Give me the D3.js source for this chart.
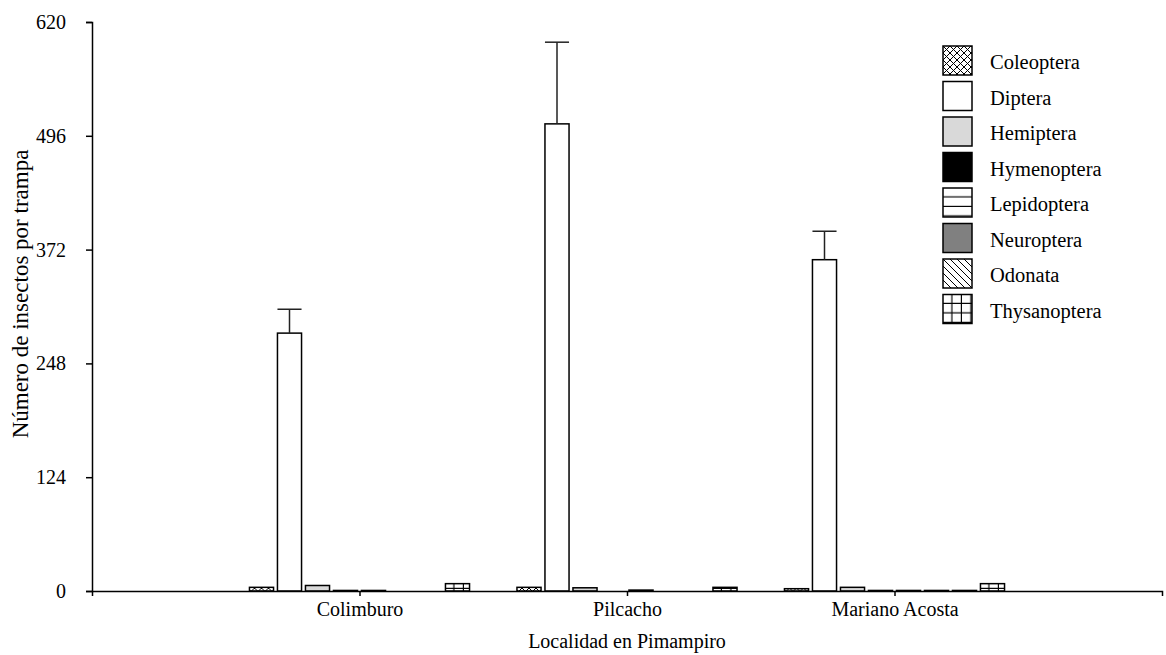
<!DOCTYPE html>
<html>
<head>
<meta charset="utf-8">
<script src="https://cdn.jsdelivr.net/npm/d3@7"></script>
<style>
    body { margin: 0; background: #fff; }
    text { font-family: "Liberation Serif", "Times New Roman", serif; fill: #000; }
    .axis path, .axis line { stroke: #000; stroke-width: 1.5; }
    .axis text { font-size: 20px; }
</style>
</head>
<body>
<div id="chart"></div>
<script>
// localities on the x axis
const localities = ['Colimburo', 'Pilcacho', 'Mariano Acosta'];
// insect orders (one bar per order in each locality)
const orders = ['Coleoptera', 'Diptera', 'Hemiptera', 'Hymenoptera', 'Lepidoptera', 'Neuroptera', 'Odonata', 'Thysanoptera'];
// mean insects per trap, one array per locality, in the order above
const colimburoValues = [4, 281, 6, 0.6, 0.6, 0, 0, 8];
const pilcachoValues = [4, 509, 3.5, 0, 1, 0, 0, 4];
const marianoValues = [2.5, 361, 4, 0.6, 0.6, 0.6, 0.6, 8];
// standard errors
const colimburoErrors = [0, 26, 0, 0, 0, 0, 0, 0];
const pilcachoErrors = [0, 89, 0, 0, 0, 0, 0, 0];
const marianoErrors = [0, 31, 0, 0, 0, 0, 0, 0];
const yTicks = [0, 124, 248, 372, 496, 620];

const values = [colimburoValues, pilcachoValues, marianoValues];
const errors = [colimburoErrors, pilcachoErrors, marianoErrors];

const width = 1166, height = 655;
const svg = d3.select("#chart").append("svg")
    .attr("width", width)
    .attr("height", height);

// fill patterns
const defs = svg.append("defs");

const cross = defs.append("pattern").attr("id", "p-cross")
    .attr("patternUnits", "userSpaceOnUse").attr("width", 7).attr("height", 7);
cross.append("path").attr("d", "M0,0L7,7M7,0L0,7")
    .attr("stroke", "#000").attr("stroke-width", 1);

const hlines = defs.append("pattern").attr("id", "p-hlines")
    .attr("patternUnits", "userSpaceOnUse").attr("width", 9).attr("height", 9.5);
hlines.append("rect").attr("width", 9).attr("height", 9.5).attr("fill", "#fff");
hlines.append("path").attr("d", "M0,9L9,9")
    .attr("stroke", "#000").attr("stroke-width", 1.3);

const diag = defs.append("pattern").attr("id", "p-diag")
    .attr("patternUnits", "userSpaceOnUse").attr("width", 7).attr("height", 7);
diag.append("rect").attr("width", 7).attr("height", 7).attr("fill", "#fff");
diag.append("path").attr("d", "M-1,-1L8,8M-1,6L1,8M6,-1L8,1")
    .attr("stroke", "#000").attr("stroke-width", 1);

const grid = defs.append("pattern").attr("id", "p-grid")
    .attr("patternUnits", "userSpaceOnUse").attr("width", 9.5).attr("height", 9.5);
grid.append("rect").attr("width", 9.5).attr("height", 9.5).attr("fill", "#fff");
grid.append("path").attr("d", "M9,0L9,9.5M0,9L9.5,9")
    .attr("stroke", "#000").attr("stroke-width", 1.3);

const fills = d3.scaleOrdinal()
    .domain(orders)
    .range(["url(#p-cross)", "#fff", "#d9d9d9", "#000", "url(#p-hlines)", "#808080", "url(#p-diag)", "url(#p-grid)"]);

// scales
const x = d3.scalePoint()
    .domain(localities)
    .range([92, 1162])
    .padding(1);

const xSub = d3.scaleBand()
    .domain(orders)
    .range([-112, 112])
    .paddingInner(0.14)
    .paddingOuter(0.07);

const y = d3.scaleLinear()
    .domain([0, 620])
    .range([591, 22]);

// bars
localities.forEach((loc, i) => {
    const rows = orders.map((o, j) => ({ order: o, value: values[i][j], err: errors[i][j] }));
    const g = svg.append("g").attr("transform", `translate(${x(loc)},0)`);

    g.selectAll("rect.bar")
        .data(rows.filter(d => d.value > 0))
        .enter().append("rect")
        .attr("class", "bar")
        .attr("x", d => xSub(d.order))
        .attr("y", d => y(d.value))
        .attr("width", xSub.bandwidth())
        .attr("height", d => y(0) - y(d.value))
        .attr("fill", d => fills(d.order))
        .attr("stroke", "#000")
        .attr("stroke-width", 1.5);

    const err = g.selectAll("g.err")
        .data(rows.filter(d => d.err > 0))
        .enter().append("g")
        .attr("class", "err");

    err.append("line")
        .attr("x1", d => xSub(d.order) + xSub.bandwidth() / 2)
        .attr("x2", d => xSub(d.order) + xSub.bandwidth() / 2)
        .attr("y1", d => y(d.value))
        .attr("y2", d => y(d.value + d.err))
        .attr("stroke", "#222").attr("stroke-width", 1.5);

    err.append("line")
        .attr("x1", d => xSub(d.order))
        .attr("x2", d => xSub(d.order) + xSub.bandwidth())
        .attr("y1", d => y(d.value + d.err))
        .attr("y2", d => y(d.value + d.err))
        .attr("stroke", "#222").attr("stroke-width", 1.5);
});

// axes
svg.append("g")
    .attr("class", "axis x-axis")
    .attr("transform", `translate(0,${y(0)})`)
    .call(d3.axisBottom(x).tickSizeOuter(0).tickSize(5).tickPadding(6));

svg.append("g")
    .attr("class", "axis y-axis")
    .attr("transform", `translate(${x.range()[0]},0)`)
    .call(d3.axisLeft(y).tickValues(yTicks).tickSizeOuter(0).tickSize(6).tickPadding(20));

svg.selectAll(".axis .domain").attr("stroke-width", 1.5);

// axis labels
svg.append("text")
    .attr("x", x(localities[1]))
    .attr("y", 648)
    .attr("text-anchor", "middle")
    .style("font-size", "20px")
    .text("Localidad en Pimampiro");

svg.append("text")
    .attr("transform", "rotate(-90)")
    .attr("x", -294)
    .attr("y", 28)
    .attr("text-anchor", "middle")
    .style("font-size", "23px")
    .text("Número de insectos por trampa");

// legend
const legend = svg.append("g")
    .attr("class", "legend")
    .attr("transform", "translate(943,46)");

orders.forEach((o, i) => {
    const row = legend.append("g")
        .attr("transform", `translate(0,${i * 35.5})`);

    row.append("rect")
        .attr("width", 29)
        .attr("height", 29)
        .attr("fill", fills(o))
        .attr("stroke", "#000")
        .attr("stroke-width", 1.5);

    row.append("text")
        .attr("x", 47)
        .attr("y", 23)
        .style("font-size", "20.5px")
        .text(o);
});
</script>
</body>
</html>
